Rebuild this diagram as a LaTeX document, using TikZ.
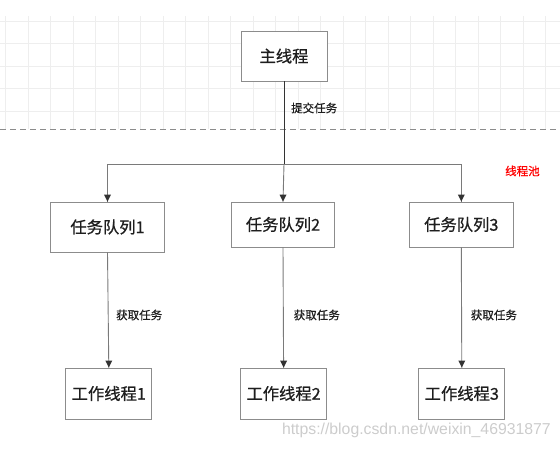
\documentclass[tikz,border=0pt]{standalone}
\usepackage{fontspec}
\setmainfont{Noto Sans CJK SC}
\newfontfamily\medfont{Noto Sans CJK SC}[FakeBold=0.7]
\newfontfamily\urlfont{Liberation Sans}
\usetikzlibrary{positioning}
\definecolor{boxgray}{HTML}{8C8C8C}
\definecolor{linegray}{HTML}{7A7A7A}
\definecolor{tipgray}{HTML}{333333}
\definecolor{gridgray}{HTML}{EEEEEE}
\definecolor{txtgray}{HTML}{1E1E1E}
\definecolor{markgray}{HTML}{CCCCCC}

\begin{document}
\begin{tikzpicture}[x=1pt,y=1pt]
\tikzstyle{every node}+=[inner sep=0pt,text=txtgray]
\tikzstyle{box}=[draw=boxgray,line width=0.9pt,fill=white,font=\medfont\fontsize{16.3}{18}\selectfont]
\tikzstyle{link}=[draw=linegray,line width=0.9pt]
\tikzstyle{tag}=[font=\medfont\fontsize{11.5}{13}\selectfont,anchor=west]
\useasboundingbox (0,0) rectangle (560,-448);
% grid above the pool
\foreach \gx in {0,...,24}
  \draw [gridgray,line width=0.8pt] (5.4+22.5*\gx,-16) -- (5.4+22.5*\gx,-129);
\foreach \gy in {0,...,4}
  \draw [gridgray,line width=0.8pt] (0,-21-22.5*\gy) -- (560,-21-22.5*\gy);
\draw [boxgray,line width=1pt,dash pattern=on 6pt off 4pt] (0,-129.3) -- (560,-129.3);
% nodes
\node [box,minimum width=86,minimum height=50] (main) at (284,-56) {主线程};
\node [box,minimum width=114,minimum height=50] (q1) at (107.5,-227) {任务队列1};
\node [box,minimum width=103,minimum height=45] (q2) at (283,-224.5) {任务队列2};
\node [box,minimum width=104,minimum height=45] (q3) at (461.3,-224.5) {任务队列3};
\node [box,minimum width=86,minimum height=51] (w1) at (108.8,-393.5) {工作线程1};
\node [box,minimum width=86,minimum height=51] (w2) at (283.6,-393.5) {工作线程2};
\node [box,minimum width=86,minimum height=51] (w3) at (461.8,-393.5) {工作线程3};
\coordinate (split) at (284,-164);
% main thread to queues
\draw [tipgray,line width=0.9pt] (main.south) -- (split);
\draw [link] (split) -| (q1.north);
\draw [link] (split) -| (q3.north);
\draw [link] (split) -- (q2.north);
\draw (291,-108) node [tag] {提交任务};
\draw (505,-171) node [tag,text=red] {线程池};
% queues to workers
\draw [link] (q1.south) -- (w1.north);
\draw [link] (q2.south) -- (w2.north);
\draw [link] (q3.south) -- (w3.north);
\draw (116,-315) node [tag] {获取任务};
\draw (293.6,-315) node [tag] {获取任务};
\draw (470.7,-315) node [tag] {获取任务};
% arrow tips
\foreach \n in {q1,q2,q3,w1,w2,w3}
  \fill [tipgray] (\n.north) -- ++(-3.5,7) -- ++(7,0) -- cycle;
\draw (551,-430) node [anchor=east,text=markgray,font=\urlfont\fontsize{15.8}{18}\selectfont] {https://blog.csdn.net/weixin\_46931877};
\end{tikzpicture}
\end{document}
